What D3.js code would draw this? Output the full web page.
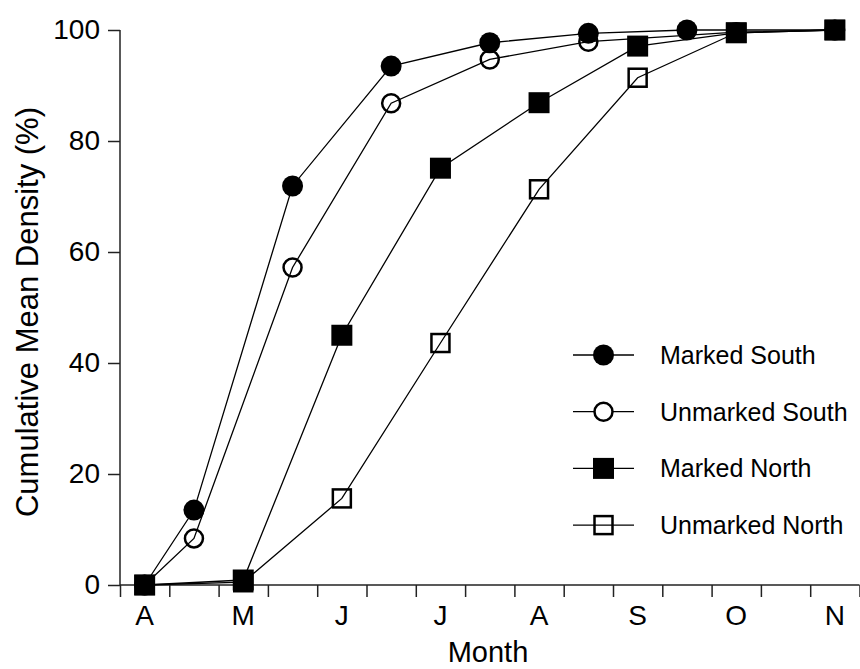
<!DOCTYPE html>
<html>
<head>
<meta charset="utf-8">
<script src="https://cdn.jsdelivr.net/npm/d3@7"></script>
<style>
  html, body { margin: 0; padding: 0; background: #fff; }
  svg { display: block; font-family: "Liberation Sans", Arial, Helvetica, sans-serif; }
</style>
</head>
<body>
<svg id="chart" width="860" height="669"></svg>
<script>
// ---- data (x positions are half-month steps: 0 = A, 2 = M, 4 = J, ...) ----
const monthLabels = ["A", "M", "J", "J", "A", "S", "O", "N"];
const monthPos    = [0, 2, 4, 6, 8, 10, 12, 14];
const yTicks      = [0, 20, 40, 60, 80, 100];

const markedSouthX   = [0, 1, 3, 5, 7, 9, 11, 14];
const markedSouthY   = [0, 13.5, 71.9, 93.5, 97.7, 99.4, 100, 100];
const unmarkedSouthX = [0, 1, 3, 5, 7, 9, 12, 14];
const unmarkedSouthY = [0, 8.4, 57.2, 86.8, 94.7, 97.9, 99.6, 100];
const markedNorthX   = [0, 2, 4, 6, 8, 10, 12, 14];
const markedNorthY   = [0, 0.9, 45, 75.1, 86.9, 97.1, 99.5, 100];
const unmarkedNorthX = [0, 2, 4, 6, 8, 10, 12, 14];
const unmarkedNorthY = [0, 0.5, 15.6, 43.6, 71.3, 91.4, 99.5, 100];

const seriesNames = ["Marked South", "Unmarked South", "Marked North", "Unmarked North"];

// ---- layout ----
const svg = d3.select("#chart");
const x = d3.scaleLinear().domain([-0.5, 14.5]).range([120, 859.5]);
const y = d3.scaleLinear().domain([0, 100]).range([585, 30]);

const series = [
  { name: seriesNames[3], xs: unmarkedNorthX, ys: unmarkedNorthY, shape: "square", filled: false },
  { name: seriesNames[1], xs: unmarkedSouthX, ys: unmarkedSouthY, shape: "circle", filled: false },
  { name: seriesNames[0], xs: markedSouthX,   ys: markedSouthY,   shape: "circle", filled: true },
  { name: seriesNames[2], xs: markedNorthX,   ys: markedNorthY,   shape: "square", filled: true }
];

// axes
const yAxis = d3.axisLeft(y).tickValues(yTicks).tickSize(12).tickPadding(8);
const gy = svg.append("g").attr("transform", "translate(120,0)").call(yAxis);
gy.select(".domain").attr("stroke", "#222").attr("stroke-width", 1.5).attr("d", `M0,${y(100)}V${y(0)}`);
gy.selectAll(".tick line").attr("stroke", "#222").attr("stroke-width", 1.5);
gy.selectAll(".tick text").attr("font-size", 28).attr("fill", "#000")
  .attr("font-family", "Liberation Sans, Arial, sans-serif");

const boundaryTicks = d3.range(-0.5, 14.6, 1);
const xAxis = d3.axisBottom(x).tickValues(boundaryTicks).tickSize(12).tickFormat("");
const gx = svg.append("g").attr("transform", `translate(0,${y(0)})`).call(xAxis);
gx.select(".domain").attr("stroke", "#222").attr("stroke-width", 1.5).attr("d", `M${x(-0.5)},0H${x(14.5)}`);
gx.selectAll(".tick line").attr("stroke", "#222").attr("stroke-width", 1.5);

svg.append("g").selectAll("text").data(monthLabels).join("text")
  .attr("x", (d, i) => x(monthPos[i]))
  .attr("y", 605)
  .attr("dy", "0.71em")
  .attr("text-anchor", "middle")
  .attr("font-size", 28)
  .text(d => d);

svg.append("text")
  .attr("x", 488).attr("y", 662)
  .attr("text-anchor", "middle")
  .attr("font-size", 29)
  .text("Month");

svg.append("text")
  .attr("transform", "translate(37.5,312) rotate(-90)")
  .attr("text-anchor", "middle")
  .attr("font-size", 31)
  .text("Cumulative Mean Density (%)");

// lines
const line = d3.line().x(d => x(d[0])).y(d => y(d[1]));
svg.append("g").selectAll("path").data(series).join("path")
  .attr("d", s => line(s.xs.map((v, i) => [v, s.ys[i]])))
  .attr("fill", "none")
  .attr("stroke", "#000")
  .attr("stroke-width", 1.3);

// markers
function drawMarker(g, shape, filled, cx, cy, legend) {
  if (shape === "circle") {
    g.append("circle")
      .attr("cx", cx).attr("cy", cy)
      .attr("r", filled ? 10.5 : 9)
      .attr("fill", filled ? "#000" : (legend ? "#fff" : "none"))
      .attr("stroke", "#000")
      .attr("stroke-width", filled ? 0 : 2.5);
  } else {
    const s = filled ? 21 : 18;
    g.append("rect")
      .attr("x", cx - s / 2).attr("y", cy - s / 2)
      .attr("width", s).attr("height", s)
      .attr("fill", filled ? "#000" : "none")
      .attr("stroke", "#000")
      .attr("stroke-width", filled ? 0 : 2.5);
  }
}
const gm = svg.append("g");
series.forEach(s => {
  s.xs.forEach((v, i) => drawMarker(gm, s.shape, s.filled, x(v), y(s.ys[i]), false));
});

// legend
const legendOrder = [2, 1, 3, 0]; // Marked South, Unmarked South, Marked North, Unmarked North
const gl = svg.append("g");
legendOrder.forEach((si, row) => {
  const s = series[si];
  const cy = 355 + row * 56.7;
  gl.append("line").attr("x1", 573).attr("x2", 634).attr("y1", cy).attr("y2", cy)
    .attr("stroke", "#000").attr("stroke-width", 1.3);
  drawMarker(gl, s.shape, s.filled, 603.5, cy, true);
  gl.append("text").attr("x", 660).attr("y", cy).attr("dy", "0.36em")
    .attr("font-size", 25).text(s.name);
});
</script>
</body>
</html>
